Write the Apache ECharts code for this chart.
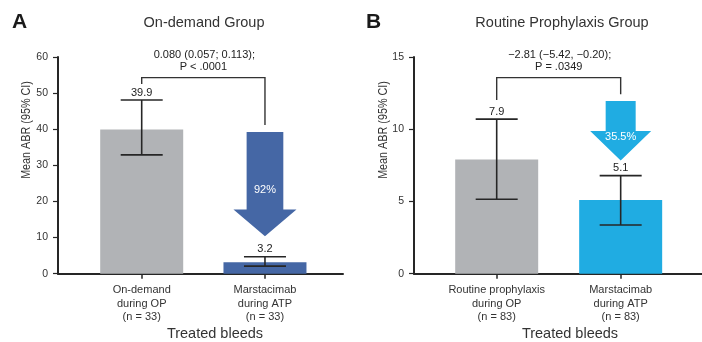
<!DOCTYPE html>
<html>
<head>
<meta charset="utf-8">
<script src="https://cdn.jsdelivr.net/npm/echarts@6/dist/echarts.min.js"></script>
<style>
  html, body { margin: 0; padding: 0; background: #fff; }
  #chart { width: 702px; height: 342px; }
</style>
</head>
<body>
<div id="chart"></div>
<script>
// Panel A: on-demand group
var categoriesA = ['On-demand\nduring OP\n(n = 33)', 'Marstacimab\nduring ATP\n(n = 33)'];
var meanA = [39.9, 3.2];
var lowA = [32.9, 2.1];
var highA = [48.1, 4.7];
var yTicksA = [0, 10, 20, 30, 40, 50, 60];
var statA = ['0.080 (0.057; 0.113);', 'P < .0001'];
var reductionA = '92%';

// Panel B: routine prophylaxis group
var categoriesB = ['Routine prophylaxis\nduring OP\n(n = 83)', 'Marstacimab\nduring ATP\n(n = 83)'];
var meanB = [7.9, 5.1];
var lowB = [5.15, 3.37];
var highB = [10.7, 6.79];
var yTicksB = [0, 5, 10, 15];
var statB = ['\u22122.81 (\u22125.42, \u22120.20);', 'P = .0349'];
var reductionB = '35.5%';

var FONT = '"Liberation Sans", Arial, Helvetica, sans-serif';
var INK = '#262626';
var GREY = '#b1b3b6';
var BLUE_A = '#4567a5';
var BLUE_B = '#20ace2';

var chart = echarts.init(document.getElementById('chart'), null, { renderer: 'canvas' });

function xAxisFor(gridIndex, cats, min, max) {
  return {
    type: 'value', gridIndex: gridIndex, min: min, max: max,
    splitLine: { show: false },
    axisLine: { show: true, onZero: false, lineStyle: { color: INK, width: 2 } },
    axisTick: { show: true, customValues: [0, 1], length: 5, lineStyle: { color: INK, width: 1.5 } },
    axisLabel: {
      show: true, customValues: [0, 1], margin: 10,
      fontFamily: FONT, fontSize: 11, color: '#333', lineHeight: 13.3,
      formatter: function (v) { return cats[Math.round(v)]; }
    }
  };
}

function yAxisFor(gridIndex, max, interval) {
  return {
    type: 'value', gridIndex: gridIndex, min: 0, max: max, interval: interval,
    splitLine: { show: false },
    axisLine: { show: true, onZero: false, lineStyle: { color: INK, width: 2 } },
    axisTick: { show: true, length: 5, lineStyle: { color: INK, width: 1.2 } },
    axisLabel: { fontFamily: FONT, fontSize: 10.5, color: '#333', margin: 10 }
  };
}

// error bars with caps, plus the mean label above the upper cap
function errorBarRender(low, high, mean) {
  return function (params, api) {
    var i = params.dataIndex;
    var top = api.coord([i, high[i]]);
    var bot = api.coord([i, low[i]]);
    var cx = top[0];
    var half = 21;
    var ls = { stroke: INK, lineWidth: 1.6 };
    return {
      type: 'group',
      children: [
        { type: 'line', shape: { x1: cx, y1: top[1], x2: cx, y2: bot[1] }, style: ls },
        { type: 'line', shape: { x1: cx - half, y1: top[1], x2: cx + half, y2: top[1] }, style: ls },
        { type: 'line', shape: { x1: cx - half, y1: bot[1], x2: cx + half, y2: bot[1] }, style: ls },
        { type: 'text', x: cx, y: top[1] - 7.5,
          style: { text: String(mean[i]), font: '11px ' + FONT, fill: '#222', align: 'center', verticalAlign: 'middle' } }
      ]
    };
  };
}

// comparison bracket between the two bars with the statistics above it
function bracketRender(leftBottom, top, rightBottom, lines) {
  return function (params, api) {
    var a = api.coord([0, leftBottom]);
    var t0 = api.coord([0, top]);
    var t1 = api.coord([1, top]);
    var b = api.coord([1, rightBottom]);
    var mid = (t0[0] + t1[0]) / 2;
    return {
      type: 'group',
      children: [
        { type: 'polyline', shape: { points: [a, t0, t1, b] },
          style: { stroke: '#333', lineWidth: 1.4, fill: null } },
        { type: 'text', x: mid + 1, y: t0[1] - 23,
          style: { text: lines[0], font: '11px ' + FONT, fill: '#222', align: 'center', verticalAlign: 'middle' } },
        { type: 'text', x: mid, y: t0[1] - 11,
          style: { text: lines[1], font: '11px ' + FONT, fill: '#222', align: 'center', verticalAlign: 'middle' } }
      ]
    };
  };
}

// downward reduction arrow over the second bar
function arrowRender(shaftTop, headTop, tip, shaftW, headW, label, labelY, color) {
  return function (params, api) {
    var s = api.coord([1, shaftTop]);
    var h = api.coord([1, headTop]);
    var t = api.coord([1, tip]);
    var cx = s[0];
    var pts = [
      [cx - shaftW / 2, s[1]], [cx + shaftW / 2, s[1]], [cx + shaftW / 2, h[1]],
      [cx + headW / 2, h[1]], [cx, t[1]], [cx - headW / 2, h[1]], [cx - shaftW / 2, h[1]]
    ];
    var ly = api.coord([1, labelY])[1];
    return {
      type: 'group',
      children: [
        { type: 'polygon', shape: { points: pts }, style: { fill: color } },
        { type: 'text', x: cx, y: ly,
          style: { text: label, font: '11px ' + FONT, fill: '#fff', align: 'center', verticalAlign: 'middle' } }
      ]
    };
  };
}

var option = {
  animation: false,
  backgroundColor: '#fff',
  grid: [
    { left: 58, top: 57, width: 285, height: 216.7 },
    { left: 414, top: 57, width: 288, height: 216.7 }
  ],
  xAxis: [
    xAxisFor(0, categoriesA, -0.679, 1.633),
    xAxisFor(1, categoriesB, -0.667, 1.656)
  ],
  yAxis: [
    yAxisFor(0, yTicksA[yTicksA.length - 1], yTicksA[1] - yTicksA[0]),
    yAxisFor(1, yTicksB[yTicksB.length - 1], yTicksB[1] - yTicksB[0])
  ],
  series: [
    {
      type: 'bar', xAxisIndex: 0, yAxisIndex: 0, barWidth: 83,
      data: meanA.map(function (v, i) {
        return { value: [i, v], itemStyle: { color: i === 0 ? GREY : BLUE_A } };
      })
    },
    {
      type: 'custom', xAxisIndex: 0, yAxisIndex: 0, z: 5,
      renderItem: errorBarRender(lowA, highA, meanA),
      data: meanA.map(function (v, i) { return [i, lowA[i], highA[i]]; })
    },
    {
      type: 'custom', xAxisIndex: 0, yAxisIndex: 0, z: 4,
      renderItem: bracketRender(52.5, 54.3, 41.2, statA),
      data: [[0.5, 54.3]]
    },
    {
      type: 'custom', xAxisIndex: 0, yAxisIndex: 0, z: 4,
      renderItem: arrowRender(39.2, 17.8, 10.4, 36.7, 63, reductionA, 23.3, BLUE_A),
      data: [[1, 39.2]]
    },
    {
      type: 'bar', xAxisIndex: 1, yAxisIndex: 1, barWidth: 83,
      data: meanB.map(function (v, i) {
        return { value: [i, v], itemStyle: { color: i === 0 ? GREY : BLUE_B } };
      })
    },
    {
      type: 'custom', xAxisIndex: 1, yAxisIndex: 1, z: 5,
      renderItem: errorBarRender(lowB, highB, meanB),
      data: meanB.map(function (v, i) { return [i, lowB[i], highB[i]]; })
    },
    {
      type: 'custom', xAxisIndex: 1, yAxisIndex: 1, z: 4,
      renderItem: bracketRender(12.03, 13.57, 12.42, statB),
      data: [[0.5, 13.57]]
    },
    {
      type: 'custom', xAxisIndex: 1, yAxisIndex: 1, z: 4,
      renderItem: arrowRender(11.96, 9.88, 7.83, 30, 61, reductionB, 9.45, BLUE_B),
      data: [[1, 11.96]]
    }
  ],
  graphic: [
    { type: 'text', x: 12, y: 22, style: { text: 'A', font: 'bold 21px ' + FONT, fill: '#1a1a1a', verticalAlign: 'middle' } },
    { type: 'text', x: 366, y: 22, style: { text: 'B', font: 'bold 21px ' + FONT, fill: '#1a1a1a', verticalAlign: 'middle' } },
    { type: 'text', x: 204, y: 23, style: { text: 'On-demand Group', font: '14.5px ' + FONT, fill: '#333', align: 'center', verticalAlign: 'middle' } },
    { type: 'text', x: 562, y: 23, style: { text: 'Routine Prophylaxis Group', font: '14.5px ' + FONT, fill: '#333', align: 'center', verticalAlign: 'middle' } },
    { type: 'text', x: 26, y: 130, rotation: Math.PI / 2, scaleX: 0.83, style: { text: 'Mean ABR (95% CI)', font: '13px ' + FONT, fill: '#333', align: 'center', verticalAlign: 'middle' } },
    { type: 'text', x: 383, y: 130, rotation: Math.PI / 2, scaleX: 0.83, style: { text: 'Mean ABR (95% CI)', font: '13px ' + FONT, fill: '#333', align: 'center', verticalAlign: 'middle' } },
    { type: 'text', x: 215, y: 334, style: { text: 'Treated bleeds', font: '14.5px ' + FONT, fill: '#333', align: 'center', verticalAlign: 'middle' } },
    { type: 'text', x: 570, y: 334, style: { text: 'Treated bleeds', font: '14.5px ' + FONT, fill: '#333', align: 'center', verticalAlign: 'middle' } }
  ]
};

chart.setOption(option);
</script>
</body>
</html>
